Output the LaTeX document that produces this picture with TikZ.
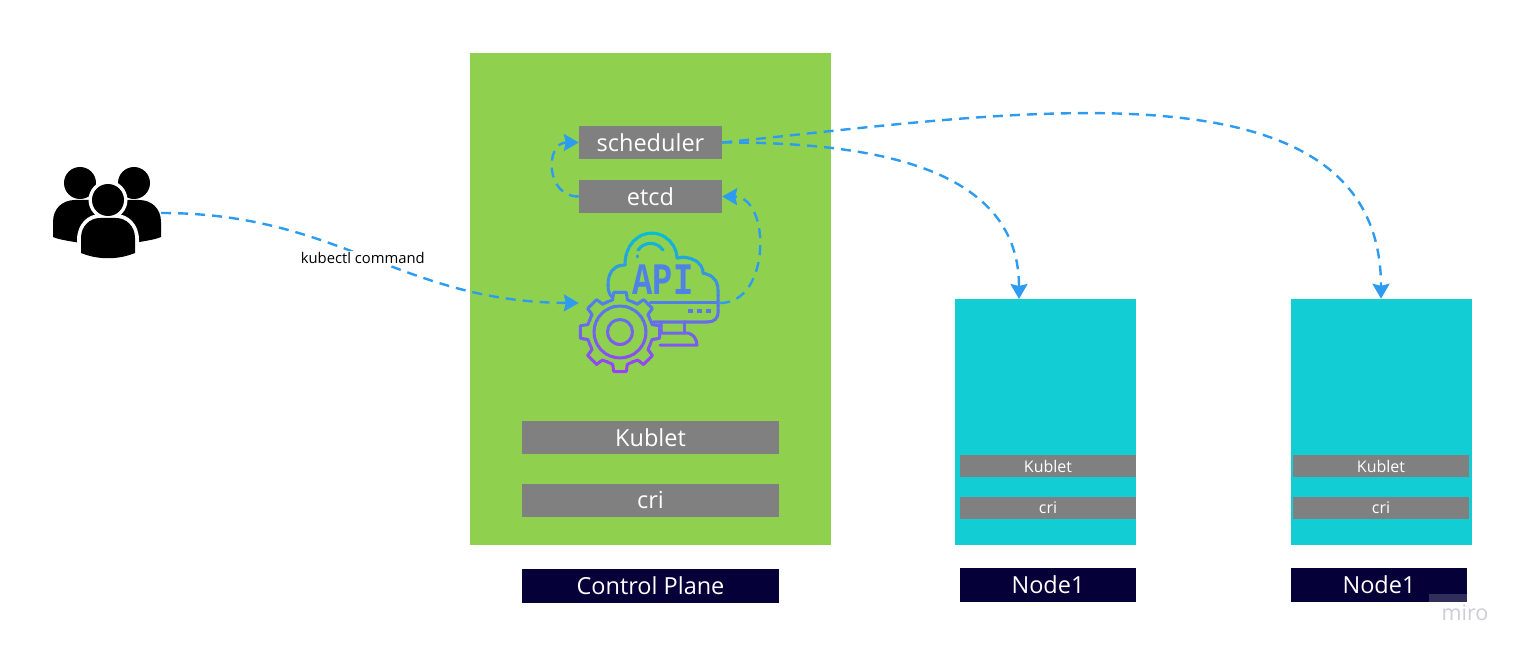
\documentclass[tikz,border=0pt]{standalone}
\usepackage{fontspec}
\usepackage{tikz}
\usetikzlibrary{arrows.meta}
\setmainfont{Open Sans}
\newfontfamily\apifont{Liberation Mono}

\definecolor{planegreen}{HTML}{8FD14F}
\definecolor{nodecyan}{HTML}{12CDD4}
\definecolor{titlenavy}{HTML}{050038}
\definecolor{linkblue}{HTML}{2D9BF0}
\definecolor{apitop}{HTML}{0ABBD8}
\definecolor{apibot}{HTML}{A13CF8}

\tikzset{
    greybox/.style={fill=black!50, text=white, inner sep=0pt, font=\fontsize{23.5}{28}\selectfont},
    smallgrey/.style={greybox, minimum width=176pt, minimum height=22pt, font=\fontsize{16}{18}\selectfont},
    titlebox/.style={fill=titlenavy, text=white, inner sep=0pt, minimum height=34pt, font=\fontsize{23.5}{28}\selectfont},
    workerbox/.style={fill=nodecyan, minimum width=181pt, minimum height=246pt, inner sep=0pt},
    hiddenbox/.style={inner sep=0pt},
    link/.style={draw=linkblue, line width=2.4pt, dash pattern=on 10pt off 7pt, -{Stealth[length=15pt,width=17pt,inset=2pt]}},
    iconline/.style={line width=3pt, line cap=round, line join=round}
}

% all the strokes of the api icon, coloured by the bands below
\newcommand{\apiicon}{
    \draw[iconline] (612,297) .. controls (609,294) and (608,290) .. (608,285)
        .. controls (608,275) and (612,265) .. (625,265)
        .. controls (625,245) and (638,233) .. (652,233)
        .. controls (665,233) and (677,245) .. (677,258)
        .. controls (690,255) and (703,262) .. (703,273)
        .. controls (712,275) and (718,280) .. (718,290)
        -- (718,313) .. controls (718,318) and (714,322) .. (708,322) -- (653,322);
    \draw[iconline] (638,250) .. controls (645,241) and (656,241) .. (663,250);
    \draw[iconline] (637,256) -- (637,257);
    \draw[iconline] (650,302) -- (718,302);
    \foreach \dotx in {688,697,706} {
        \fill (\dotx,309) rectangle +(5,4);
    }
    % monitor foot
    \draw[iconline] (661,322) -- (661,333) -- (688,333) .. controls (693,334) and (697,339) .. (697,345) -- (660,345);
    \draw[iconline] (684,322) -- (684,333);
    % gear
    \begin{scope}[shift={(620,332)}]
        \draw[iconline] (-13:33) \foreach \tooth in {0,45,...,315} {
            -- (\tooth-13:33) -- (\tooth-9:40) -- (\tooth+9:40) -- (\tooth+13:33)
        } -- cycle;
        \draw[iconline] (0,0) circle (26);
        \draw[iconline] (0,0) circle (12.5);
    \end{scope}
}

\begin{document}
\begin{tikzpicture}[x=1pt,y=-1pt]
    \useasboundingbox (0,0) rectangle (1524,655);
    \fill[white] (0,0) rectangle (1524,655);

    % Control plane
    \node[fill=planegreen, minimum width=361pt, minimum height=492pt, inner sep=0pt] (plane) at (650.5,299) {};
    \node[greybox, minimum width=143pt, minimum height=33pt] (scheduler) at (650.5,142.5) {scheduler};
    \node[greybox, minimum width=143pt, minimum height=33pt] (etcd) at (650.5,196.5) {etcd};
    \node[greybox, minimum width=257pt, minimum height=33pt] (kublet) at (650.5,437.5) {Kublet};
    \node[greybox, minimum width=257pt, minimum height=33pt] (cri) at (650.5,500) {cri};
    \node[titlebox, minimum width=257pt] (planetitle) at (650.5,585.5) {Control Plane};

    % Workers
    \node[workerbox] (workerA) at (1045.5,422) {};
    \node[smallgrey] (kubletA) at (1048,466) {Kublet};
    \node[smallgrey] (criA) at (1048,508) {cri};
    \node[titlebox, minimum width=176pt] (titleA) at (1048,585) {Node1};

    \node[workerbox] (workerB) at (1381,422) {};
    \node[smallgrey] (kubletB) at (1381,466) {Kublet};
    \node[smallgrey] (criB) at (1381,508) {cri};
    \node[titlebox, minimum width=176pt] (titleB) at (1379,585) {Node1};

    % Api icon
    \foreach \bandy in {230,235,...,375} {
        \pgfmathsetmacro{\bandmix}{(373-\bandy)/1.4}
        \begin{scope}[color=apitop!\bandmix!apibot]
            \clip (570,\bandy) rectangle (730,\bandy+5.4);
            \apiicon
        \end{scope}
    }
    \node[hiddenbox, text=apitop!55!apibot, font=\fontsize{45}{46}\apifont\bfseries, xscale=.75, transform shape] (apitext) at (663,280) {API};
    \node[hiddenbox, minimum width=141pt, minimum height=140pt] (api) at (649.5,303) {};

    % Users
    \fill (80,183) circle (16);
    \fill (134,183) circle (16);
    \fill (53,237) -- (53,222) .. controls (53,208) and (63,200) .. (75,200) -- (100,200) -- (100,243) -- (80,243) .. controls (70,241) and (60,240) .. (53,237) -- cycle;
    \fill (161,237) -- (161,222) .. controls (161,208) and (151,200) .. (139,200) -- (114,200) -- (114,243) -- (134,243) .. controls (144,241) and (154,240) .. (161,237) -- cycle;
    \fill[white] (108,200) circle (19.5);
    \fill[white] (77,262) -- (77,240) .. controls (77,224) and (88,214) .. (100,214) -- (116,214) .. controls (128,214) and (139,224) .. (139,240) -- (139,262) -- cycle;
    \fill (108,200) circle (16);
    \fill (81,253) -- (81,238) .. controls (81,226) and (90,218) .. (100,218) -- (116,218) .. controls (126,218) and (135,226) .. (135,238) -- (135,253) .. controls (118,260) and (98,260) .. (81,253) -- cycle;
    \node[hiddenbox, minimum width=108pt, minimum height=90pt] (users) at (107,213) {};

    % Where the arrows land on the workers
    \coordinate (inA) at (1019,299);
    \coordinate (inB) at (workerB.north);

    % Arrows
    \draw[link] (users.east) .. controls (340,213) and (400,302) .. node[pos=.48, yshift=-3pt, fill=white, inner sep=1.5pt, text=black, font=\fontsize{14.8}{16}\selectfont] (kubectl) {kubectl command} (api.west);
    \draw[link] (api.east) .. controls (771,303) and (771,197) .. (etcd.east);
    \draw[link] (etcd.west) .. controls (545,197) and (545,142.5) .. (scheduler.west);
    \draw[link] (scheduler.east) .. controls (880,142) and (1019,170) .. (inA);
    \draw[link] (scheduler.east) .. controls (1000,115) and (1381,50) .. (inB);

    % Watermark
    \fill[white, opacity=.18] (1429,594) rectangle (1467,602);
    \node[hiddenbox, text=titlenavy!20, font=\fontsize{21.5}{24}\selectfont] (miro) at (1465,613) {miro};
\end{tikzpicture}
\end{document}
